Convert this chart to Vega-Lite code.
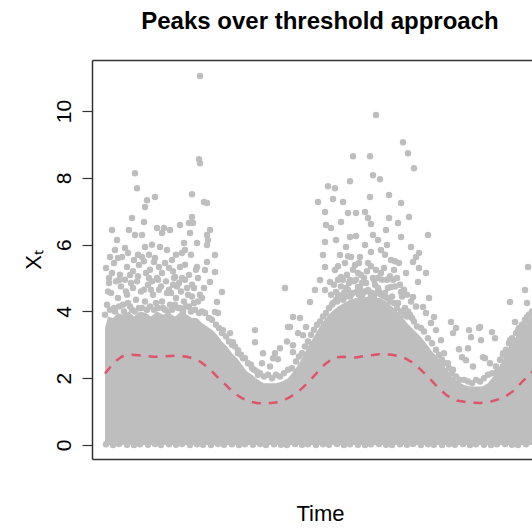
{
"$schema": "https://vega.github.io/schema/vega-lite/v6.json",
"width": 440,
"height": 399,
"autosize": {"type": "none"},
"padding": {"left": 92, "top": 60, "right": 0, "bottom": 72},
"background": "white",
"title": {"text": "Peaks over threshold approach", "font": "Liberation Sans", "fontSize": 24, "fontWeight": "bold", "color": "#000000", "anchor": "middle", "frame": "group", "dx": 8, "offset": 7, "baseline": "alphabetic"},
"config": {
"view": {"stroke": null},
"axis": {"labelFont": "Liberation Sans", "titleFont": "Liberation Sans", "titleFontWeight": "normal", "titleColor": "#000000", "labelColor": "#000000", "grid": false, "domainColor": "#333333", "domainWidth": 1.5},
"axisX": {"labels": false, "ticks": false},
"axisY": {"labelAngle": -90, "labelAlign": "center", "labelBaseline": "bottom", "labelFontSize": 21, "labelPadding": 8, "tickSize": 10, "tickColor": "#333333", "tickWidth": 1.2, "titleFontSize": 22, "titlePadding": 8}
},
"datasets": {
"band": [
{"t":13,"lo":0,"hi":3.5},{"t":16,"lo":0,"hi":3.85},{"t":21,"lo":0,"hi":3.8},{"t":26,"lo":0,"hi":3.95},{"t":31,"lo":0,"hi":3.9},{"t":37,"lo":0,"hi":4.0},{"t":42,"lo":0,"hi":3.85},{"t":48,"lo":0,"hi":4.0},{"t":54,"lo":0,"hi":3.95},{"t":59,"lo":0,"hi":3.85},{"t":65,"lo":0,"hi":4.0},{"t":71,"lo":0,"hi":3.9},{"t":77,"lo":0,"hi":3.95},{"t":83,"lo":0,"hi":3.85},{"t":89,"lo":0,"hi":4.0},{"t":95,"lo":0,"hi":3.9},{"t":100,"lo":0,"hi":3.8},{"t":105,"lo":0,"hi":3.8},{"t":110,"lo":0,"hi":3.65},{"t":115,"lo":0,"hi":3.55},{"t":120,"lo":0,"hi":3.45},{"t":125,"lo":0,"hi":3.3},{"t":130,"lo":0,"hi":3.1},{"t":135,"lo":0,"hi":2.95},{"t":140,"lo":0,"hi":2.75},{"t":145,"lo":0,"hi":2.6},{"t":150,"lo":0,"hi":2.4},{"t":155,"lo":0,"hi":2.2},{"t":160,"lo":0,"hi":2.1},{"t":166,"lo":0,"hi":1.95},{"t":172,"lo":0,"hi":1.85},{"t":178,"lo":0,"hi":1.85},{"t":184,"lo":0,"hi":1.85},{"t":190,"lo":0,"hi":1.9},{"t":196,"lo":0,"hi":2.0},{"t":200,"lo":0,"hi":2.15},{"t":205,"lo":0,"hi":2.35},{"t":210,"lo":0,"hi":2.6},{"t":215,"lo":0,"hi":2.9},{"t":220,"lo":0,"hi":3.15},{"t":225,"lo":0,"hi":3.4},{"t":230,"lo":0,"hi":3.65},{"t":235,"lo":0,"hi":3.85},{"t":240,"lo":0,"hi":4.0},{"t":246,"lo":0,"hi":4.15},{"t":252,"lo":0,"hi":4.25},{"t":258,"lo":0,"hi":4.35},{"t":264,"lo":0,"hi":4.4},{"t":270,"lo":0,"hi":4.4},{"t":276,"lo":0,"hi":4.45},{"t":282,"lo":0,"hi":4.4},{"t":288,"lo":0,"hi":4.4},{"t":294,"lo":0,"hi":4.3},{"t":300,"lo":0,"hi":4.15},{"t":305,"lo":0,"hi":4.0},{"t":310,"lo":0,"hi":3.85},{"t":315,"lo":0,"hi":3.65},{"t":320,"lo":0,"hi":3.5},{"t":325,"lo":0,"hi":3.35},{"t":330,"lo":0,"hi":3.2},{"t":335,"lo":0,"hi":3.0},{"t":340,"lo":0,"hi":2.8},{"t":345,"lo":0,"hi":2.65},{"t":350,"lo":0,"hi":2.45},{"t":355,"lo":0,"hi":2.25},{"t":360,"lo":0,"hi":2.05},{"t":366,"lo":0,"hi":1.9},{"t":372,"lo":0,"hi":1.8},{"t":378,"lo":0,"hi":1.75},{"t":384,"lo":0,"hi":1.75},{"t":390,"lo":0,"hi":1.75},{"t":396,"lo":0,"hi":1.85},{"t":400,"lo":0,"hi":2.0},{"t":405,"lo":0,"hi":2.2},{"t":410,"lo":0,"hi":2.5},{"t":415,"lo":0,"hi":2.8},{"t":420,"lo":0,"hi":3.05},{"t":425,"lo":0,"hi":3.3},{"t":430,"lo":0,"hi":3.5},{"t":436,"lo":0,"hi":3.75},{"t":442,"lo":0,"hi":3.9}
],
"threshold": [
{"t":13,"u":2.14},{"t":18,"u":2.32},{"t":24,"u":2.52},{"t":30,"u":2.65},{"t":40,"u":2.7},{"t":50,"u":2.68},{"t":62,"u":2.64},{"t":74,"u":2.66},{"t":85,"u":2.68},{"t":95,"u":2.64},{"t":102,"u":2.58},{"t":108,"u":2.5},{"t":116,"u":2.32},{"t":125,"u":2.05},{"t":133,"u":1.82},{"t":141,"u":1.58},{"t":150,"u":1.4},{"t":158,"u":1.3},{"t":166,"u":1.25},{"t":175,"u":1.24},{"t":186,"u":1.28},{"t":196,"u":1.4},{"t":206,"u":1.58},{"t":215,"u":1.84},{"t":224,"u":2.13},{"t":233,"u":2.42},{"t":242,"u":2.62},{"t":252,"u":2.64},{"t":264,"u":2.62},{"t":276,"u":2.68},{"t":287,"u":2.72},{"t":300,"u":2.7},{"t":311,"u":2.63},{"t":320,"u":2.48},{"t":329,"u":2.25},{"t":338,"u":1.98},{"t":346,"u":1.72},{"t":355,"u":1.48},{"t":365,"u":1.33},{"t":377,"u":1.27},{"t":389,"u":1.26},{"t":400,"u":1.31},{"t":412,"u":1.42},{"t":422,"u":1.63},{"t":431,"u":1.92},{"t":440,"u":2.18},{"t":445,"u":2.3}
],
"obs": [
{"t":43,"v":8.14},{"t":45,"v":7.69},{"t":55,"v":7.33},{"t":53,"v":7.13},{"t":63,"v":7.43},{"t":40,"v":6.8},{"t":52,"v":6.68},{"t":20,"v":6.44},{"t":37,"v":6.44},{"t":43,"v":6.29},{"t":50,"v":6.29},{"t":65,"v":6.5},{"t":72,"v":6.5},{"t":70,"v":6.35},{"t":78,"v":6.44},{"t":88,"v":6.59},{"t":97,"v":6.65},{"t":25,"v":6.14},{"t":23,"v":5.84},{"t":33,"v":5.9},{"t":53,"v":5.93},{"t":60,"v":6.0},{"t":68,"v":5.93},{"t":75,"v":5.84},{"t":92,"v":6.05},{"t":18,"v":5.63},{"t":30,"v":5.63},{"t":42,"v":5.54},{"t":50,"v":5.63},{"t":62,"v":5.48},{"t":80,"v":5.54},{"t":90,"v":5.75},{"t":35,"v":5.33},{"t":47,"v":5.39},{"t":67,"v":5.33},{"t":77,"v":5.3},{"t":88,"v":5.33},{"t":17,"v":5.0},{"t":27,"v":4.94},{"t":38,"v":5.09},{"t":57,"v":5.0},{"t":70,"v":5.15},{"t":83,"v":5.03},{"t":97,"v":5.09},
{"t":108,"v":11.05},{"t":107,"v":8.56},{"t":108,"v":8.44},{"t":100,"v":7.51},{"t":112,"v":7.28},{"t":115,"v":7.25},{"t":100,"v":6.83},{"t":101,"v":6.65},{"t":118,"v":6.44},{"t":115,"v":6.29},{"t":116,"v":6.14},{"t":105,"v":6.05},{"t":115,"v":5.99},{"t":123,"v":5.69},{"t":98,"v":6.35},{"t":93,"v":5.84},{"t":105,"v":5.33},{"t":115,"v":5.48},{"t":113,"v":5.24},{"t":123,"v":5.18},{"t":106,"v":5.0},{"t":118,"v":4.88},{"t":130,"v":4.58},{"t":125,"v":4.28},{"t":123,"v":3.98},{"t":126,"v":3.95},{"t":131,"v":3.44},{"t":141,"v":3.08},{"t":138,"v":3.35},{"t":163,"v":3.44},{"t":163,"v":3.08},{"t":171,"v":2.75},{"t":181,"v":2.6},{"t":186,"v":2.57},{"t":193,"v":4.7},{"t":196,"v":3.53},{"t":146,"v":2.84},{"t":151,"v":2.6},{"t":160,"v":2.3},{"t":170,"v":2.45},{"t":178,"v":2.35},{"t":166,"v":2.1},{"t":188,"v":2.9},{"t":195,"v":3.1},{"t":183,"v":2.75},
{"t":15,"v":4.2},{"t":19,"v":4.55},{"t":22,"v":4.1},{"t":26,"v":4.4},{"t":29,"v":4.75},{"t":31,"v":4.2},{"t":35,"v":4.5},{"t":38,"v":4.15},{"t":41,"v":4.7},{"t":44,"v":4.35},{"t":47,"v":4.1},{"t":49,"v":4.6},{"t":53,"v":4.3},{"t":56,"v":4.8},{"t":58,"v":4.15},{"t":61,"v":4.5},{"t":64,"v":4.25},{"t":67,"v":4.65},{"t":70,"v":4.3},{"t":73,"v":4.05},{"t":75,"v":4.55},{"t":78,"v":4.2},{"t":81,"v":4.8},{"t":84,"v":4.4},{"t":86,"v":4.1},{"t":89,"v":4.6},{"t":92,"v":4.3},{"t":95,"v":4.7},{"t":97,"v":4.15},{"t":100,"v":4.45},{"t":103,"v":4.05},{"t":106,"v":4.3},{"t":17,"v":4.85},{"t":24,"v":4.9},{"t":33,"v":4.95},{"t":45,"v":4.9},{"t":52,"v":4.65},{"t":60,"v":4.9},{"t":66,"v":4.95},{"t":79,"v":4.55},{"t":87,"v":4.85},{"t":93,"v":4.95},{"t":100,"v":4.8},{"t":14,"v":5.3},{"t":22,"v":5.45},{"t":41,"v":5.2},{"t":52,"v":5.5},{"t":58,"v":5.25},{"t":63,"v":5.6},{"t":73,"v":5.45},{"t":81,"v":5.2},{"t":93,"v":5.4},{"t":99,"v":5.7},{"t":20,"v":5.15},{"t":110,"v":4.4},{"t":112,"v":4.7},
{"t":16,"v":4.6},{"t":28,"v":5.1},{"t":34,"v":4.6},{"t":39,"v":4.85},{"t":46,"v":5.05},{"t":54,"v":5.15},{"t":59,"v":4.65},{"t":65,"v":5.0},{"t":69,"v":4.75},{"t":74,"v":4.9},{"t":77,"v":4.65},{"t":82,"v":5.0},{"t":85,"v":4.75},{"t":90,"v":5.0},{"t":96,"v":4.5},{"t":102,"v":4.7},{"t":108,"v":4.5},{"t":104,"v":5.25},{"t":26,"v":5.6},{"t":36,"v":5.75},{"t":46,"v":5.7},{"t":84,"v":5.7},{"t":57,"v":5.7},
{"t":13,"v":3.9},{"t":18,"v":4.05},{"t":23,"v":4.0},{"t":27,"v":4.15},{"t":32,"v":4.0},{"t":36,"v":4.25},{"t":40,"v":4.05},{"t":43,"v":4.0},{"t":50,"v":4.1},{"t":55,"v":4.05},{"t":62,"v":4.05},{"t":66,"v":4.1},{"t":71,"v":4.1},{"t":76,"v":4.0},{"t":80,"v":4.05},{"t":83,"v":4.2},{"t":88,"v":4.1},{"t":91,"v":4.0},{"t":94,"v":4.15},{"t":99,"v":4.0},{"t":102,"v":4.25},{"t":107,"v":3.95},
{"t":110,"v":4.0},{"t":113,"v":3.95},{"t":117,"v":3.8},{"t":120,"v":3.75},{"t":124,"v":3.6},{"t":127,"v":3.5},{"t":130,"v":3.35},{"t":134,"v":3.25},{"t":137,"v":3.1},{"t":140,"v":3.0},{"t":143,"v":2.95},{"t":146,"v":2.75},{"t":149,"v":2.7},{"t":153,"v":2.6},{"t":156,"v":2.45},{"t":159,"v":2.4},{"t":162,"v":2.25},{"t":165,"v":2.2},{"t":168,"v":2.15},{"t":172,"v":2.05},{"t":176,"v":2.1},{"t":180,"v":2.0},{"t":184,"v":2.1},{"t":188,"v":2.05},{"t":192,"v":2.15},{"t":196,"v":2.25},{"t":200,"v":2.3},{"t":204,"v":2.5},{"t":207,"v":2.65},{"t":210,"v":2.75},{"t":213,"v":2.95},{"t":216,"v":3.1},{"t":219,"v":3.3},{"t":222,"v":3.45},{"t":225,"v":3.6},{"t":228,"v":3.7},{"t":231,"v":3.85},{"t":234,"v":3.95},{"t":237,"v":4.1},{"t":240,"v":4.2},{"t":244,"v":4.35},
{"t":246,"v":4.5},{"t":249,"v":4.75},{"t":252,"v":4.55},{"t":256,"v":4.65},{"t":259,"v":4.5},{"t":262,"v":4.9},{"t":265,"v":4.6},{"t":268,"v":4.7},{"t":271,"v":4.55},{"t":274,"v":4.85},{"t":277,"v":4.6},{"t":280,"v":4.55},{"t":283,"v":4.8},{"t":287,"v":4.6},{"t":290,"v":4.95},{"t":293,"v":4.55},{"t":296,"v":4.7},{"t":300,"v":4.45},{"t":303,"v":4.75},{"t":306,"v":4.25},{"t":310,"v":4.45},{"t":313,"v":4.1},{"t":316,"v":4.0},{"t":320,"v":3.8},{"t":246,"v":4.95},{"t":255,"v":5.1},{"t":266,"v":5.15},{"t":272,"v":5.0},{"t":289,"v":5.15},{"t":298,"v":5.05},
{"t":239,"v":4.5},{"t":242,"v":4.8},{"t":251,"v":4.95},{"t":257,"v":4.85},{"t":261,"v":5.25},{"t":264,"v":4.95},{"t":270,"v":4.85},{"t":275,"v":5.2},{"t":279,"v":5.35},{"t":282,"v":4.95},{"t":286,"v":5.0},{"t":292,"v":5.3},{"t":295,"v":4.95},{"t":301,"v":4.95},{"t":305,"v":5.0},{"t":308,"v":4.8},{"t":312,"v":4.65},{"t":315,"v":4.5},{"t":319,"v":4.3},{"t":324,"v":4.15},{"t":246,"v":5.35},{"t":267,"v":5.45},{"t":256,"v":5.65},{"t":293,"v":5.7},{"t":303,"v":5.5},
{"t":241,"v":4.25},{"t":245,"v":4.3},{"t":248,"v":4.4},{"t":251,"v":4.35},{"t":254,"v":4.45},{"t":258,"v":4.45},{"t":261,"v":4.55},{"t":267,"v":4.5},{"t":270,"v":4.45},{"t":273,"v":4.6},{"t":279,"v":4.5},{"t":282,"v":4.45},{"t":285,"v":4.55},{"t":289,"v":4.5},{"t":292,"v":4.45},{"t":295,"v":4.4},{"t":298,"v":4.3},{"t":302,"v":4.25},{"t":305,"v":4.1},{"t":309,"v":4.0},{"t":312,"v":3.9},{"t":315,"v":3.85},
{"t":318,"v":3.9},{"t":322,"v":3.7},{"t":325,"v":3.55},{"t":329,"v":3.5},{"t":332,"v":3.4},{"t":336,"v":3.2},{"t":340,"v":3.05},{"t":344,"v":2.85},{"t":347,"v":2.7},{"t":350,"v":2.55},{"t":353,"v":2.45},{"t":357,"v":2.3},{"t":360,"v":2.15},{"t":364,"v":2.05},{"t":368,"v":1.95},{"t":372,"v":1.95},{"t":376,"v":1.9},{"t":380,"v":1.85},{"t":384,"v":1.95},{"t":388,"v":1.9},{"t":392,"v":2.0},{"t":396,"v":2.1},{"t":400,"v":2.15},{"t":404,"v":2.35},{"t":408,"v":2.55},{"t":411,"v":2.7},{"t":414,"v":2.85},{"t":417,"v":3.05},{"t":420,"v":3.2},{"t":424,"v":3.35},{"t":427,"v":3.5},{"t":430,"v":3.6},{"t":433,"v":3.75},{"t":437,"v":3.9},{"t":440,"v":4.0},
{"t":284,"v":9.88},{"t":261,"v":8.65},{"t":278,"v":8.65},{"t":281,"v":8.08},{"t":288,"v":7.96},{"t":258,"v":7.9},{"t":236,"v":7.75},{"t":243,"v":7.69},{"t":278,"v":7.43},{"t":226,"v":7.28},{"t":241,"v":7.37},{"t":251,"v":7.28},{"t":233,"v":6.98},{"t":256,"v":6.95},{"t":264,"v":6.95},{"t":273,"v":6.98},{"t":276,"v":6.8},{"t":234,"v":6.59},{"t":239,"v":6.5},{"t":249,"v":6.68},{"t":279,"v":6.62},{"t":258,"v":6.23},{"t":264,"v":6.26},{"t":281,"v":6.29},{"t":286,"v":6.14},{"t":233,"v":6.08},{"t":244,"v":6.14},{"t":254,"v":5.93},{"t":273,"v":5.99},{"t":231,"v":5.69},{"t":248,"v":5.69},{"t":259,"v":5.63},{"t":268,"v":5.63},{"t":279,"v":5.78},{"t":289,"v":5.84},{"t":233,"v":5.33},{"t":243,"v":5.24},{"t":253,"v":5.45},{"t":263,"v":5.39},{"t":276,"v":5.45},{"t":284,"v":5.24},{"t":228,"v":4.94},{"t":238,"v":4.88},{"t":249,"v":5.03},{"t":258,"v":4.94},{"t":269,"v":5.09},{"t":281,"v":5.0},{"t":223,"v":4.64},{"t":218,"v":4.28},{"t":233,"v":4.64},{"t":244,"v":4.58},{"t":254,"v":4.7},{"t":266,"v":4.73},{"t":276,"v":4.64},{"t":286,"v":4.7},{"t":201,"v":3.83},{"t":208,"v":3.8},{"t":198,"v":3.53},{"t":206,"v":3.35},{"t":211,"v":3.29},{"t":201,"v":2.99},{"t":201,"v":2.78},{"t":214,"v":3.53},
{"t":311,"v":9.07},{"t":316,"v":8.74},{"t":322,"v":8.29},{"t":297,"v":7.49},{"t":309,"v":7.25},{"t":317,"v":6.83},{"t":297,"v":6.8},{"t":306,"v":6.65},{"t":336,"v":6.29},{"t":309,"v":6.23},{"t":294,"v":6.44},{"t":295,"v":5.99},{"t":319,"v":5.93},{"t":327,"v":5.75},{"t":324,"v":5.63},{"t":299,"v":5.54},{"t":307,"v":5.45},{"t":321,"v":5.48},{"t":327,"v":5.3},{"t":334,"v":5.15},{"t":302,"v":5.24},{"t":314,"v":5.15},{"t":326,"v":4.88},{"t":337,"v":4.4},{"t":299,"v":4.73},{"t":309,"v":4.58},{"t":321,"v":4.43},{"t":331,"v":4.13},{"t":342,"v":3.83},{"t":334,"v":3.95},{"t":339,"v":3.65},{"t":344,"v":3.44},{"t":349,"v":3.14},{"t":352,"v":2.75},{"t":359,"v":3.68},{"t":364,"v":3.5},{"t":361,"v":3.35},{"t":377,"v":3.44},{"t":387,"v":3.5},{"t":379,"v":3.23},{"t":367,"v":2.87},{"t":376,"v":2.9},{"t":389,"v":3.14},{"t":374,"v":2.54},{"t":381,"v":2.35},{"t":356,"v":2.45},{"t":361,"v":2.25},{"t":391,"v":2.63},
{"t":436,"v":5.33},{"t":433,"v":4.64},{"t":418,"v":4.28},{"t":435,"v":4.25},{"t":388,"v":3.53},{"t":400,"v":3.38},{"t":403,"v":3.2},{"t":423,"v":3.68},{"t":430,"v":3.59},{"t":426,"v":3.44},{"t":435,"v":3.83},{"t":370,"v":2.63},{"t":393,"v":2.6},{"t":411,"v":2.75},{"t":418,"v":3.14},{"t":420,"v":2.93},{"t":411,"v":2.35},{"t":398,"v":2.45},{"t":405,"v":2.19},{"t":430,"v":3.23},{"t":436,"v":3.44},
{"t":14,"v":0.02},{"t":21,"v":0.0},{"t":27,"v":0.03},{"t":35,"v":0.01},{"t":42,"v":0.0},{"t":48,"v":0.02},{"t":56,"v":0.01},{"t":63,"v":0.03},{"t":69,"v":0.0},{"t":77,"v":0.02},{"t":84,"v":0.01},{"t":90,"v":0.03},{"t":98,"v":0.0},{"t":105,"v":0.02},{"t":111,"v":0.01},{"t":119,"v":0.0},{"t":126,"v":0.03},{"t":132,"v":0.01},{"t":140,"v":0.02},{"t":147,"v":0.0},{"t":153,"v":0.02},{"t":161,"v":0.01},{"t":168,"v":0.03},{"t":174,"v":0.0},{"t":182,"v":0.02},{"t":189,"v":0.01},{"t":195,"v":0.0},{"t":203,"v":0.03},{"t":210,"v":0.01},{"t":216,"v":0.02},{"t":224,"v":0.0},{"t":231,"v":0.02},{"t":237,"v":0.01},{"t":245,"v":0.03},{"t":252,"v":0.0},{"t":258,"v":0.02},{"t":266,"v":0.01},{"t":273,"v":0.0},{"t":279,"v":0.02},{"t":287,"v":0.03},{"t":294,"v":0.01},{"t":300,"v":0.0},{"t":308,"v":0.02},{"t":315,"v":0.01},{"t":321,"v":0.03},{"t":329,"v":0.0},{"t":336,"v":0.02},{"t":342,"v":0.01},{"t":350,"v":0.0},{"t":357,"v":0.02},{"t":363,"v":0.01},{"t":371,"v":0.03},{"t":378,"v":0.0},{"t":384,"v":0.02},{"t":392,"v":0.01},{"t":399,"v":0.0},{"t":405,"v":0.02},{"t":413,"v":0.03},{"t":420,"v":0.01},{"t":426,"v":0.0},{"t":434,"v":0.02}
]
},
"layer": [
{
"data": {"name": "band"},
"mark": {"type": "area", "color": "#BEBEBE", "opacity": 1, "clip": true},
"encoding": {
"x": {"field": "t", "type": "quantitative", "scale": {"domain": [0, 440], "nice": false, "zero": false}, "axis": {"orient": "bottom", "title": "Time", "titleFontSize": 22, "titlePadding": 44, "titleX": 228}},
"y": {"field": "hi", "type": "quantitative", "scale": {"domain": [-0.42, 11.53], "nice": false, "zero": false}, "title": "Xₜ", "axis": {"values": [0, 2, 4, 6, 8, 10]}},
"y2": {"field": "lo"}
}
},
{
"data": {"name": "obs"},
"mark": {"type": "circle", "color": "#BEBEBE", "size": 42, "opacity": 1, "clip": true},
"encoding": {
"x": {"field": "t", "type": "quantitative", "axis": null},
"y": {"field": "v", "type": "quantitative", "title": "Xₜ", "axis": {"values": [0, 2, 4, 6, 8, 10]}}
}
},
{
"data": {"name": "threshold"},
"mark": {"type": "line", "color": "#DF536B", "strokeWidth": 2.5, "strokeDash": [9, 8], "clip": true},
"encoding": {
"x": {"field": "t", "type": "quantitative", "axis": {"orient": "top", "title": null}},
"y": {"field": "u", "type": "quantitative", "title": "Xₜ", "axis": {"values": [0, 2, 4, 6, 8, 10]}}
}
}
],
"resolve": {"axis": {"x": "independent"}}
}
